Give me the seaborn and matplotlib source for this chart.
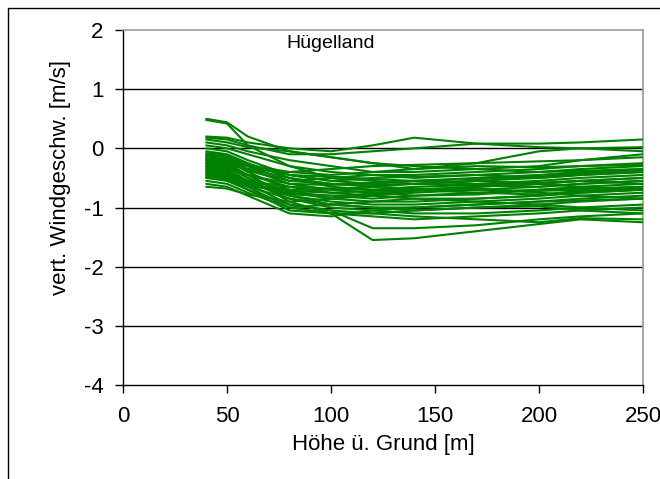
import numpy as np
import pandas as pd
import matplotlib
matplotlib.use("Agg")
import matplotlib.pyplot as plt
import seaborn as sns
from matplotlib.lines import Line2D

heights = [40, 50, 60, 80, 100, 120, 140, 170, 200, 220, 250]

profiles = [
    [0.50, 0.44, 0.20, -0.05, -0.15, -0.25, -0.30, -0.35, -0.40, -0.38, -0.35],
    [0.48, 0.42, 0.05, -0.30, -0.50, -0.55, -0.60, -0.55, -0.50, -0.45, -0.40],
    [0.20, 0.18, 0.10, 0.00, -0.05, 0.05, 0.18, 0.08, 0.02, 0.00, -0.05],
    [0.18, 0.15, 0.05, -0.10, -0.10, -0.05, 0.00, 0.08, 0.08, 0.10, 0.15],
    [0.15, 0.10, 0.02, -0.05, -0.15, -0.25, -0.35, -0.25, -0.05, 0.00, 0.02],
    [0.10, 0.05, -0.05, -0.20, -0.30, -0.40, -0.40, -0.35, -0.30, -0.20, -0.10],
    [0.05, 0.00, -0.10, -0.30, -0.40, -0.45, -0.50, -0.45, -0.40, -0.35, -0.30],
    [0.00, -0.05, -0.20, -0.45, -0.55, -0.60, -0.55, -0.50, -0.45, -0.40, -0.35],
    [-0.05, -0.10, -0.25, -0.50, -0.65, -0.70, -0.70, -0.65, -0.60, -0.55, -0.50],
    [-0.10, -0.12, -0.30, -0.55, -0.60, -0.62, -0.60, -0.62, -0.65, -0.60, -0.55],
    [-0.12, -0.15, -0.35, -0.60, -0.70, -0.75, -0.80, -0.78, -0.70, -0.65, -0.60],
    [-0.15, -0.20, -0.40, -0.70, -0.85, -0.90, -0.90, -0.85, -0.80, -0.75, -0.70],
    [-0.18, -0.22, -0.38, -0.55, -0.50, -0.45, -0.45, -0.40, -0.35, -0.30, -0.25],
    [-0.20, -0.25, -0.45, -0.80, -0.95, -1.00, -1.05, -1.00, -0.95, -0.90, -0.85],
    [-0.22, -0.28, -0.50, -0.90, -1.10, -1.55, -1.52, -1.40, -1.28, -1.20, -1.25],
    [-0.25, -0.30, -0.45, -0.65, -0.75, -0.80, -0.85, -0.90, -0.95, -1.00, -1.05],
    [-0.28, -0.32, -0.50, -0.75, -0.85, -0.80, -0.75, -0.70, -0.65, -0.60, -0.55],
    [-0.30, -0.35, -0.55, -0.85, -1.00, -1.05, -1.10, -1.10, -1.05, -1.00, -0.95],
    [-0.32, -0.38, -0.60, -0.95, -1.05, -1.35, -1.35, -1.30, -1.20, -1.15, -1.10],
    [-0.35, -0.40, -0.55, -0.70, -0.70, -0.65, -0.60, -0.55, -0.60, -0.65, -0.70],
    [-0.38, -0.42, -0.60, -0.80, -0.90, -0.95, -0.95, -0.90, -0.85, -0.80, -0.75],
    [-0.40, -0.45, -0.65, -1.00, -1.10, -1.15, -1.20, -1.15, -1.10, -1.05, -1.00],
    [-0.42, -0.48, -0.62, -0.75, -0.80, -0.85, -0.80, -0.75, -0.70, -0.68, -0.65],
    [-0.45, -0.50, -0.70, -1.05, -1.10, -1.10, -1.05, -1.00, -0.98, -1.05, -1.10],
    [-0.48, -0.52, -0.65, -0.85, -0.95, -1.00, -1.00, -0.95, -0.90, -0.85, -0.80],
    [-0.50, -0.55, -0.70, -0.95, -1.05, -1.10, -1.15, -1.20, -1.25, -1.18, -1.20],
    [-0.55, -0.60, -0.75, -1.00, -0.95, -0.90, -0.85, -0.85, -0.80, -0.75, -0.70],
    [-0.60, -0.65, -0.80, -1.10, -1.15, -1.05, -1.00, -0.95, -0.90, -0.88, -0.85],
    [-0.65, -0.68, -0.78, -0.90, -0.85, -0.75, -0.70, -0.65, -0.60, -0.55, -0.50],
    [-0.25, -0.20, -0.30, -0.45, -0.55, -0.50, -0.48, -0.45, -0.50, -0.45, -0.40],
    [-0.30, -0.28, -0.35, -0.40, -0.45, -0.40, -0.35, -0.30, -0.32, -0.30, -0.28],
    [-0.35, -0.33, -0.45, -0.60, -0.62, -0.58, -0.55, -0.60, -0.55, -0.50, -0.45],
    [-0.20, -0.22, -0.35, -0.50, -0.60, -0.65, -0.68, -0.70, -0.72, -0.70, -0.65],
    [-0.45, -0.42, -0.55, -0.65, -0.68, -0.70, -0.65, -0.62, -0.58, -0.55, -0.60],
    [-0.40, -0.45, -0.58, -0.78, -0.80, -0.78, -0.72, -0.68, -0.75, -0.80, -0.85],
    [-0.15, -0.18, -0.30, -0.45, -0.48, -0.52, -0.55, -0.52, -0.48, -0.42, -0.38],
    [-0.08, -0.12, -0.28, -0.40, -0.35, -0.30, -0.28, -0.25, -0.22, -0.20, -0.15],
    [-0.50, -0.52, -0.60, -0.72, -0.75, -0.72, -0.70, -0.75, -0.78, -0.72, -0.68],
]

x_ticks = [0, 50, 100, 150, 200, 250]
y_ticks = [-4, -3, -2, -1, 0, 1, 2]
title_text = "Hügelland"
x_label = "Höhe ü. Grund [m]"
y_label = "vert. Windgeschw. [m/s]"

rows = []
for i, prof in enumerate(profiles):
    for h, v in zip(heights, prof):
        rows.append({"run": i, "hoehe": h, "w": v})
df = pd.DataFrame(rows)

sns.set_theme(style="white")
plt.rcParams["font.family"] = ["Liberation Sans", "DejaVu Sans"]

fig = plt.figure(figsize=(6.6, 4.79), dpi=100)
ax = fig.add_axes([123 / 660, 1 - 385 / 479, (643 - 123) / 660, (385 - 30) / 479])

sns.lineplot(data=df, x="hoehe", y="w", units="run", estimator=None,
             color="#008000", linewidth=1.5, ax=ax, legend=False, zorder=3)

ax.set_xlim(0, 250)
ax.set_ylim(-4, 2)
ax.set_xticks(x_ticks)
ax.set_yticks(y_ticks)
ax.set_xticklabels([str(t) for t in x_ticks], fontsize=16)
ax.set_yticklabels([str(t) for t in y_ticks], fontsize=16)
for y in y_ticks[1:-1]:
    ax.axhline(y, color="black", linewidth=1.0, zorder=1)

for s in ["top", "right"]:
    ax.spines[s].set_color("#999999")
    ax.spines[s].set_linewidth(1.2)
for s in ["left", "bottom"]:
    ax.spines[s].set_color("black")
    ax.spines[s].set_linewidth(1.0)

ax.tick_params(axis="both", direction="out", length=6, width=1, color="black",
               left=True, bottom=True, labelcolor="black")
ax.tick_params(axis="x", pad=9)
ax.tick_params(axis="y", pad=8)

ax.set_xlabel(x_label, fontsize=16, color="black", labelpad=5)
ax.set_ylabel(y_label, fontsize=16, color="black")
ax.yaxis.set_label_coords(-0.10, 0.585)

ax.text(100, 1.77, title_text, fontsize=14, color="black", ha="center", va="center",
        bbox=dict(facecolor="white", edgecolor="none", pad=3), zorder=5, clip_on=False)

fig.add_artist(Line2D([8 / 660, 8 / 660], [0, 1 - 8 / 479], transform=fig.transFigure,
                      color="black", linewidth=1.0))
fig.add_artist(Line2D([8 / 660, 1], [1 - 8 / 479, 1 - 8 / 479], transform=fig.transFigure,
                      color="black", linewidth=1.0))

fig.savefig("out.png", dpi=100, facecolor="white")
